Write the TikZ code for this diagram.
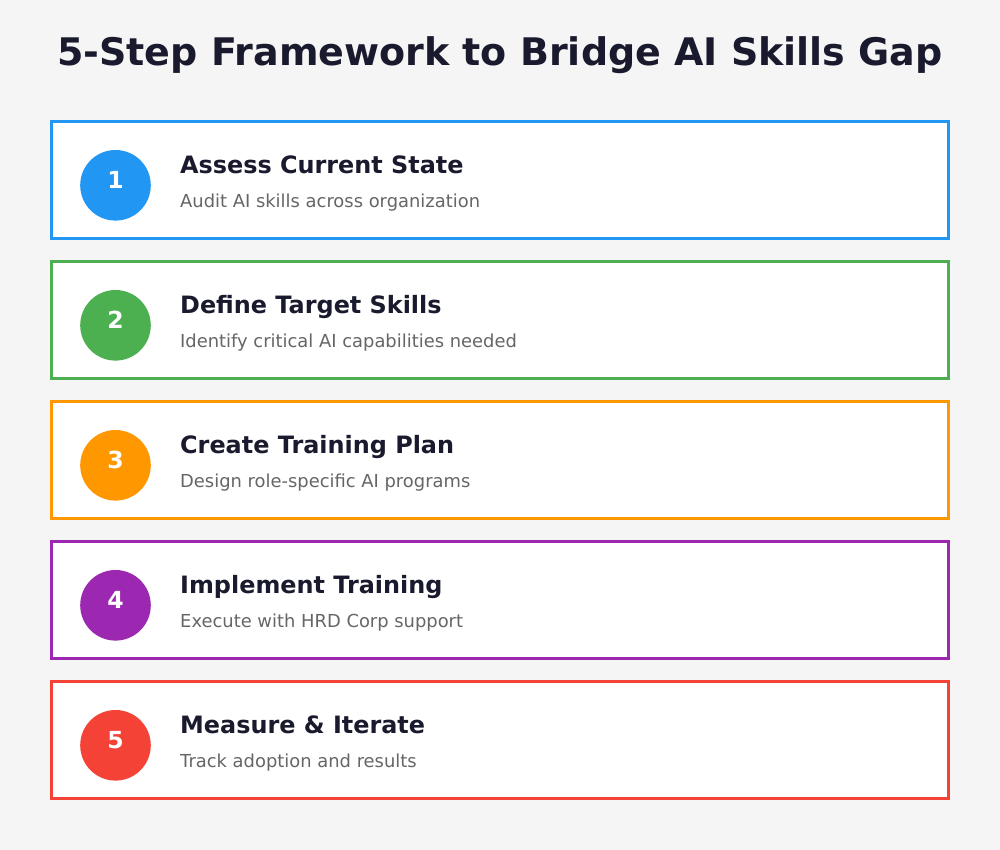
\documentclass[tikz,border=0pt]{standalone}
\usepackage{fontspec}
\setmainfont{DejaVu Sans}
\definecolor{bg}{HTML}{F5F5F5}
\definecolor{titlec}{HTML}{1A1A2E}
\definecolor{subc}{HTML}{666666}
\definecolor{c1}{HTML}{2196F3}
\definecolor{c2}{HTML}{4CAF50}
\definecolor{c3}{HTML}{FF9800}
\definecolor{c4}{HTML}{9C27B0}
\definecolor{c5}{HTML}{F44336}
\begin{document}
\begin{tikzpicture}[x=1pt,y=-1pt,
  card/.style={draw=#1,fill=white,line width=3pt},
  badge/.style={fill=#1,draw=none},
  numtxt/.style={anchor=base,text=white,font=\fontsize{23.5}{28}\selectfont\bfseries,inner sep=0pt},
  headtxt/.style={anchor=base west,text=titlec,font=\fontsize{23.9}{28}\selectfont\bfseries,inner sep=0pt},
  subtxt/.style={anchor=base west,text=subc,font=\fontsize{17.9}{21}\selectfont,inner sep=0pt},
  titletxt/.style={anchor=base,text=titlec,font=\fontsize{38}{44}\selectfont\bfseries,inner sep=0pt}]
\fill[bg] (0,0) rectangle (1000,850);
\useasboundingbox (0,0) rectangle (1000,850);
\node[titletxt] (title) at (500,65.7) {5-Step Framework to Bridge AI Skills Gap};
\foreach \i/\col/\head/\sub in {
  1/c1/Assess Current State/Audit AI skills across organization,
  2/c2/Define Target Skills/Identify critical AI capabilities needed,
  3/c3/Create Training Plan/Design role-specific AI programs,
  4/c4/Implement Training/Execute with HRD Corp support,
  5/c5/Measure \& Iterate/Track adoption and results}{
  \pgfmathsetmacro{\dy}{(\i-1)*140}
  \draw[card=\col] (51.5,121.5+\dy) rectangle (948.5,238.5+\dy);
  \fill[badge=\col] (115.5,185.3+\dy) circle (35.3);
  \node[numtxt] (n\i) at (115.5,188.3+\dy) {\i};
  \node[headtxt] (h\i) at (180,173.3+\dy) {\head};
  \node[subtxt] (s\i) at (180,207.3+\dy) {\sub};
}
\end{tikzpicture}
\end{document}
